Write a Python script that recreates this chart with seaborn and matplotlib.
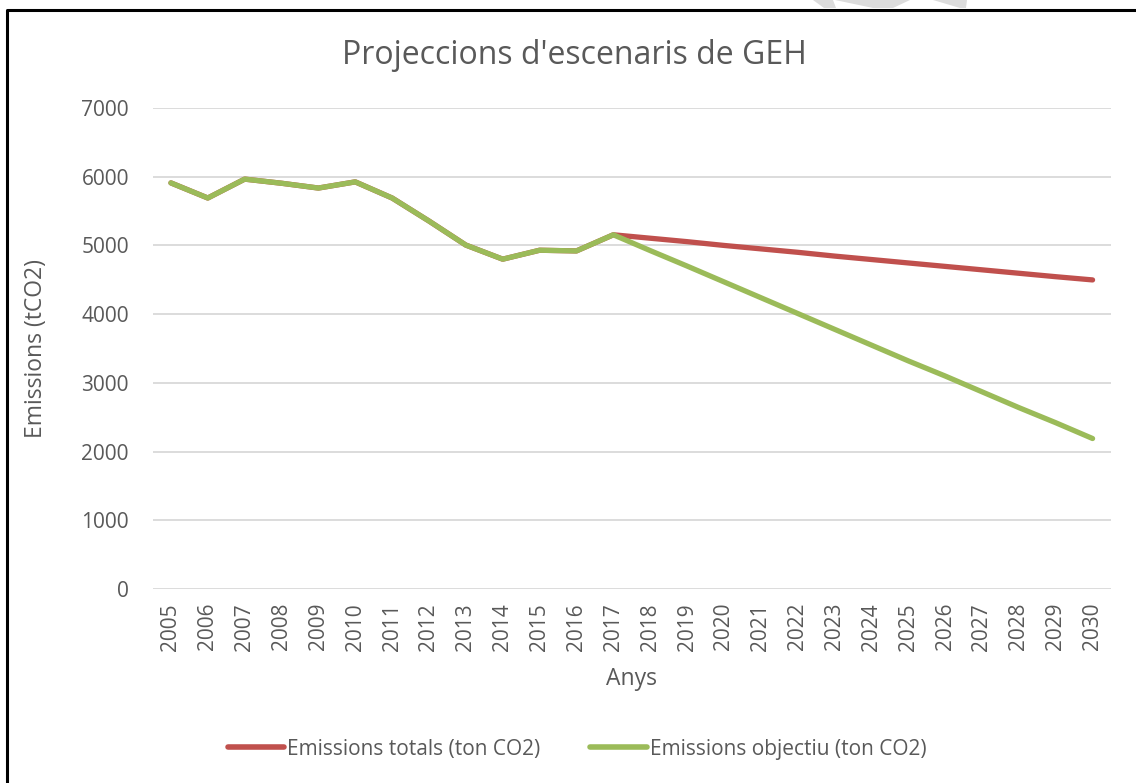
import matplotlib
matplotlib.use("Agg")
import matplotlib.pyplot as plt
import seaborn as sns
import pandas as pd
from matplotlib.lines import Line2D
from matplotlib.patches import Polygon

years = [str(y) for y in range(2005, 2031)]
totals = [5910, 5690, 5965, 5905, 5835, 5925, 5690, 5355, 5005, 4800, 4930, 4920, 5155,
          5105, 5055, 5000, 4950, 4900, 4845, 4795, 4745, 4695, 4645, 4595, 4545, 4498]
objectiu = [5910, 5690, 5965, 5905, 5835, 5925, 5690, 5355, 5005, 4800, 4930, 4920, 5155,
            4925, 4700, 4470, 4240, 4010, 3780, 3550, 3320, 3100, 2870, 2640, 2420, 2190]
series_names = ["Emissions totals (ton CO2)", "Emissions objectiu (ton CO2)"]
colors = ["#C0504D", "#9BBB59"]
title = "Projeccions d'escenaris de GEH"
xlabel = "Anys"
ylabel = "Emissions (tCO2)"
yticks = [0, 1000, 2000, 3000, 4000, 5000, 6000, 7000]

df = pd.DataFrame({
    "Any": years * 2,
    "Valor": totals + objectiu,
    "Serie": [series_names[0]] * len(years) + [series_names[1]] * len(years),
})

sns.set_style("white")
plt.rcParams["font.family"] = ["Open Sans", "DejaVu Sans"]
text_color = "#595959"

fig = plt.figure(figsize=(11.36, 7.83), dpi=100)
ax = fig.add_axes([152.5 / 1136, 1 - 589 / 783, (1111 - 152.5) / 1136, (589 - 108) / 783])

sns.lineplot(data=df, x="Any", y="Valor", hue="Serie", palette=colors,
             linewidth=3.8, ax=ax, legend=False, sort=False,
             solid_capstyle="round", solid_joinstyle="round")

ax.set_xlim(-0.5, len(years) - 0.5)
ax.set_ylim(0, 7000)
ax.set_yticks(yticks)
ax.set_yticklabels([str(v) for v in yticks])
ax.grid(axis="y", color="#D9D9D9", linewidth=1.3)
ax.grid(axis="x", visible=False)
ax.set_axisbelow(True)
for s in ax.spines.values():
    s.set_visible(False)
ax.tick_params(axis="both", length=0, labelsize=15, labelcolor=text_color)
ax.tick_params(axis="y", pad=17)
ax.tick_params(axis="x", pad=10)
plt.setp(ax.get_xticklabels(), rotation=90)

ax.set_xlabel(xlabel, fontsize=16.5, color=text_color, labelpad=12)
ax.set_ylabel(ylabel, fontsize=16.5, color=text_color, labelpad=24)
fig.text(574 / 1136, 1 - 55 / 783, title, ha="center", va="center", fontsize=23, color=text_color)

handles = [Line2D([0], [0], color=c, linewidth=4, solid_capstyle="round") for c in colors]
fig.legend(handles, series_names, loc="center", bbox_to_anchor=(577 / 1136, 1 - 749 / 783),
           ncol=2, frameon=False, fontsize=15, handlelength=2.7, handletextpad=0.15,
           columnspacing=2.4, labelcolor=text_color)

# chart border (partially cropped in the reference)
fig.add_artist(Line2D([7 / 1136, 7 / 1136, 1.0], [0, 1 - 10 / 783, 1 - 10 / 783],
                      transform=fig.transFigure, color="black", linewidth=2.2))

# watermark fragments at the very top
for pts in [[(813, 0), (833, 0), (836, 8), (824, 8)],
            [(835, 0), (910, 0), (893, 8), (873, 8)],
            [(933, 0), (967, 0), (966, 8), (960, 8)]]:
    fig.add_artist(Polygon([(x / 1136, 1 - y / 783) for x, y in pts], closed=True,
                           transform=fig.transFigure, facecolor="#DCDCDC", edgecolor="none"))

fig.savefig("out.png", dpi=100)
